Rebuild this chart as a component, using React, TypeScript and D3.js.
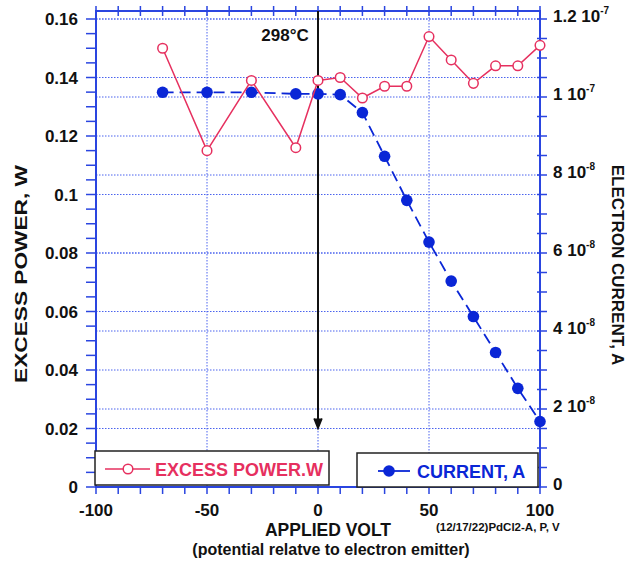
import React from "react";
import * as d3 from "d3";

const voltages = [-70, -50, -30, -10, 0, 10, 20, 30, 40, 50, 60, 70, 80, 90, 100];
const excessPower = [0.150, 0.115, 0.139, 0.116, 0.139, 0.140, 0.133, 0.137, 0.137, 0.154, 0.146, 0.138, 0.144, 0.144, 0.151];
const current = [1.012e-7, 1.012e-7, 1.012e-7, 1.008e-7, 1.008e-7, 1.006e-7, 0.96e-7, 0.848e-7, 0.735e-7, 0.628e-7, 0.528e-7, 0.437e-7, 0.345e-7, 0.253e-7, 0.168e-7];

const xTicks = [-100, -50, 0, 50, 100];
const xTickLabels = ["-100", "-50", "0", "50", "100"];
const leftTicks = [0, 0.02, 0.04, 0.06, 0.08, 0.1, 0.12, 0.14, 0.16];
const leftTickLabels = ["0", "0.02", "0.04", "0.06", "0.08", "0.1", "0.12", "0.14", "0.16"];
const rightTicks = [0, 2e-8, 4e-8, 6e-8, 8e-8, 1e-7, 1.2e-7];
const rightTickMantissa = ["0", "2", "4", "6", "8", "1", "1.2"];
const rightTickExp = ["", "-8", "-8", "-8", "-8", "-7", "-7"];

const W = 630, H = 564;
const L = 96, R = 540, B = 487, T = 19, FT = 11;
const AXIS = "#2a45e0";
const GRID = "#4a63ee";
const BLUE = "#0a26d6";
const RED = "#e6305f";
const FONT = "'Liberation Sans', Arial, Helvetica, sans-serif";

export default function App() {
  const x = d3.scaleLinear().domain([-100, 100]).range([L, R]);
  const yL = d3.scaleLinear().domain([0, 0.16]).range([B, T]);
  const yR = d3.scaleLinear().domain([0, 1.2e-7]).range([B, T]);

  const powerData = voltages.map((v, i) => [v, excessPower[i]] as [number, number]);
  const currData = voltages.map((v, i) => [v, current[i]] as [number, number]);
  const powerLine = d3.line<[number, number]>().x(d => x(d[0])).y(d => yL(d[1]))(powerData) || "";
  const currLine = d3.line<[number, number]>().x(d => x(d[0])).y(d => yR(d[1]))(currData) || "";

  const minorX = d3.range(-100, 100.01, 10);
  const minorL = d3.range(0, 0.1601, 0.005);
  const minorR = d3.range(0, 1.2001e-7, 5e-9);

  const arrowTip = yL(0.02);

  return (
    <svg width={W} height={H} style={{ position: "absolute", left: 0, top: 0, background: "#fff" }} fontFamily={FONT}>
      <rect x={0} y={0} width={W} height={H} fill="#fff" />
      {/* grid */}
      <g stroke={GRID} strokeWidth={1} strokeDasharray="1.5,1.5" fill="none">
        {leftTicks.map((t, i) => (
          <line key={"gl" + i} x1={L} x2={R} y1={yL(t)} y2={yL(t)} />
        ))}
        {rightTicks.map((t, i) => (
          <line key={"gr" + i} x1={L} x2={R} y1={yR(t)} y2={yR(t)} />
        ))}
        {xTicks.map((t, i) => (
          <line key={"gx" + i} x1={x(t)} x2={x(t)} y1={FT} y2={B} />
        ))}
      </g>
      {/* frame */}
      <g stroke={AXIS} strokeWidth={2} fill="none">
        <line x1={L} x2={L} y1={FT - 1} y2={B + 1} />
        <line x1={R} x2={R} y1={FT - 1} y2={B + 1} />
        <line x1={L - 1} x2={R + 1} y1={FT} y2={FT} />
        <line x1={L - 1} x2={R + 1} y1={B} y2={B} />
      </g>
      {/* ticks */}
      <g stroke={AXIS} strokeWidth={1.5}>
        {minorX.map((t, i) => (
          <g key={"tx" + i}>
            <line x1={x(t)} x2={x(t)} y1={FT - 5} y2={FT + 5} />
            <line x1={x(t)} x2={x(t)} y1={B} y2={B + 7} />
          </g>
        ))}
        {minorL.map((t, i) => (
          <line key={"tl" + i} x1={L - 10} x2={L} y1={yL(t)} y2={yL(t)} />
        ))}
        {minorR.map((t, i) => (
          <line key={"tr" + i} x1={R - 3} x2={R + 7} y1={yR(t)} y2={yR(t)} />
        ))}
      </g>
      {/* arrow at 0 V */}
      <g stroke="#111" strokeWidth={2} fill="none">
        <line x1={x(0)} x2={x(0)} y1={FT} y2={arrowTip - 1} />
        <path d={`M${x(0) - 4},${arrowTip - 10} L${x(0)},${arrowTip} L${x(0) + 4},${arrowTip - 10}`} strokeWidth={1.5} fill="#111" />
      </g>
      {/* series */}
      <path d={currLine} fill="none" stroke={BLUE} strokeWidth={1.8} strokeDasharray="11,6" />
      {currData.map((d, i) => (
        <circle key={"c" + i} cx={x(d[0])} cy={yR(d[1])} r={5.8} fill={BLUE} />
      ))}
      <path d={powerLine} fill="none" stroke={RED} strokeWidth={1.5} />
      {powerData.map((d, i) => (
        <circle key={"p" + i} cx={x(d[0])} cy={yL(d[1])} r={4.8} fill="#fff" stroke={RED} strokeWidth={1.5} />
      ))}
      {/* left tick labels */}
      <g fontSize={17} fontWeight="bold" fill="#111" textAnchor="end">
        {leftTicks.map((t, i) => (
          <text key={"ll" + i} x={78} y={yL(t) + 6}>{leftTickLabels[i]}</text>
        ))}
      </g>
      {/* right tick labels */}
      <g fontSize={17} fontWeight="bold" fill="#111">
        {rightTicks.map((t, i) => (
          <text key={"rl" + i} x={553} y={yR(t) + 3}>
            {rightTickExp[i] === "" ? rightTickMantissa[i] : (
              <>
                {rightTickMantissa[i] + " 10"}
                <tspan fontSize={10} dy={-8}>{rightTickExp[i]}</tspan>
              </>
            )}
          </text>
        ))}
      </g>
      {/* bottom tick labels */}
      <g fontSize={17} fontWeight="bold" fill="#111" textAnchor="middle">
        {xTicks.map((t, i) => (
          <text key={"bl" + i} x={x(t)} y={516}>{xTickLabels[i]}</text>
        ))}
      </g>
      {/* titles */}
      <text x={285} y={41} fontSize={17} fontWeight="bold" fill="#111" textAnchor="middle">298°C</text>
      <text x={328} y={536} fontSize={17.5} fontWeight="bold" fill="#111" textAnchor="middle">APPLIED VOLT</text>
      <text x={331} y={555} fontSize={16} fontWeight="bold" fill="#111" textAnchor="middle">(potential relatve to electron emitter)</text>
      <text x={436} y={531} fontSize={11.5} fontWeight="bold" fill="#111">(12/17/22)PdCl2-A, P, V</text>
      <text transform="translate(27,274) rotate(-90)" fontSize={17} fontWeight="bold" fill="#111" textAnchor="middle" textLength={218} lengthAdjust="spacingAndGlyphs">EXCESS POWER, W</text>
      <text transform="translate(612,265) rotate(90)" fontSize={17} fontWeight="bold" fill="#111" textAnchor="middle">ELECTRON CURRENT, A</text>
      {/* legends */}
      <g>
        <rect x={95} y={451} width={234} height={34} fill="#fff" stroke="#222" strokeWidth={1.5} />
        <line x1={105} x2={150} y1={469} y2={469} stroke={RED} strokeWidth={1.5} />
        <circle cx={128} cy={469} r={4.8} fill="#fff" stroke={RED} strokeWidth={1.5} />
        <text x={155} y={475.5} fontSize={18} fontWeight="bold" fill={RED}>EXCESS POWER.W</text>
      </g>
      <g>
        <rect x={357} y={453} width={181} height={34} fill="#fff" stroke="#222" strokeWidth={1.5} />
        <line x1={378} x2={410} y1={471} y2={471} stroke={BLUE} strokeWidth={1.8} />
        <circle cx={389} cy={471} r={5.8} fill={BLUE} />
        <text x={417} y={477.5} fontSize={18} fontWeight="bold" fill={BLUE}>CURRENT, A</text>
      </g>
    </svg>
  );
}
